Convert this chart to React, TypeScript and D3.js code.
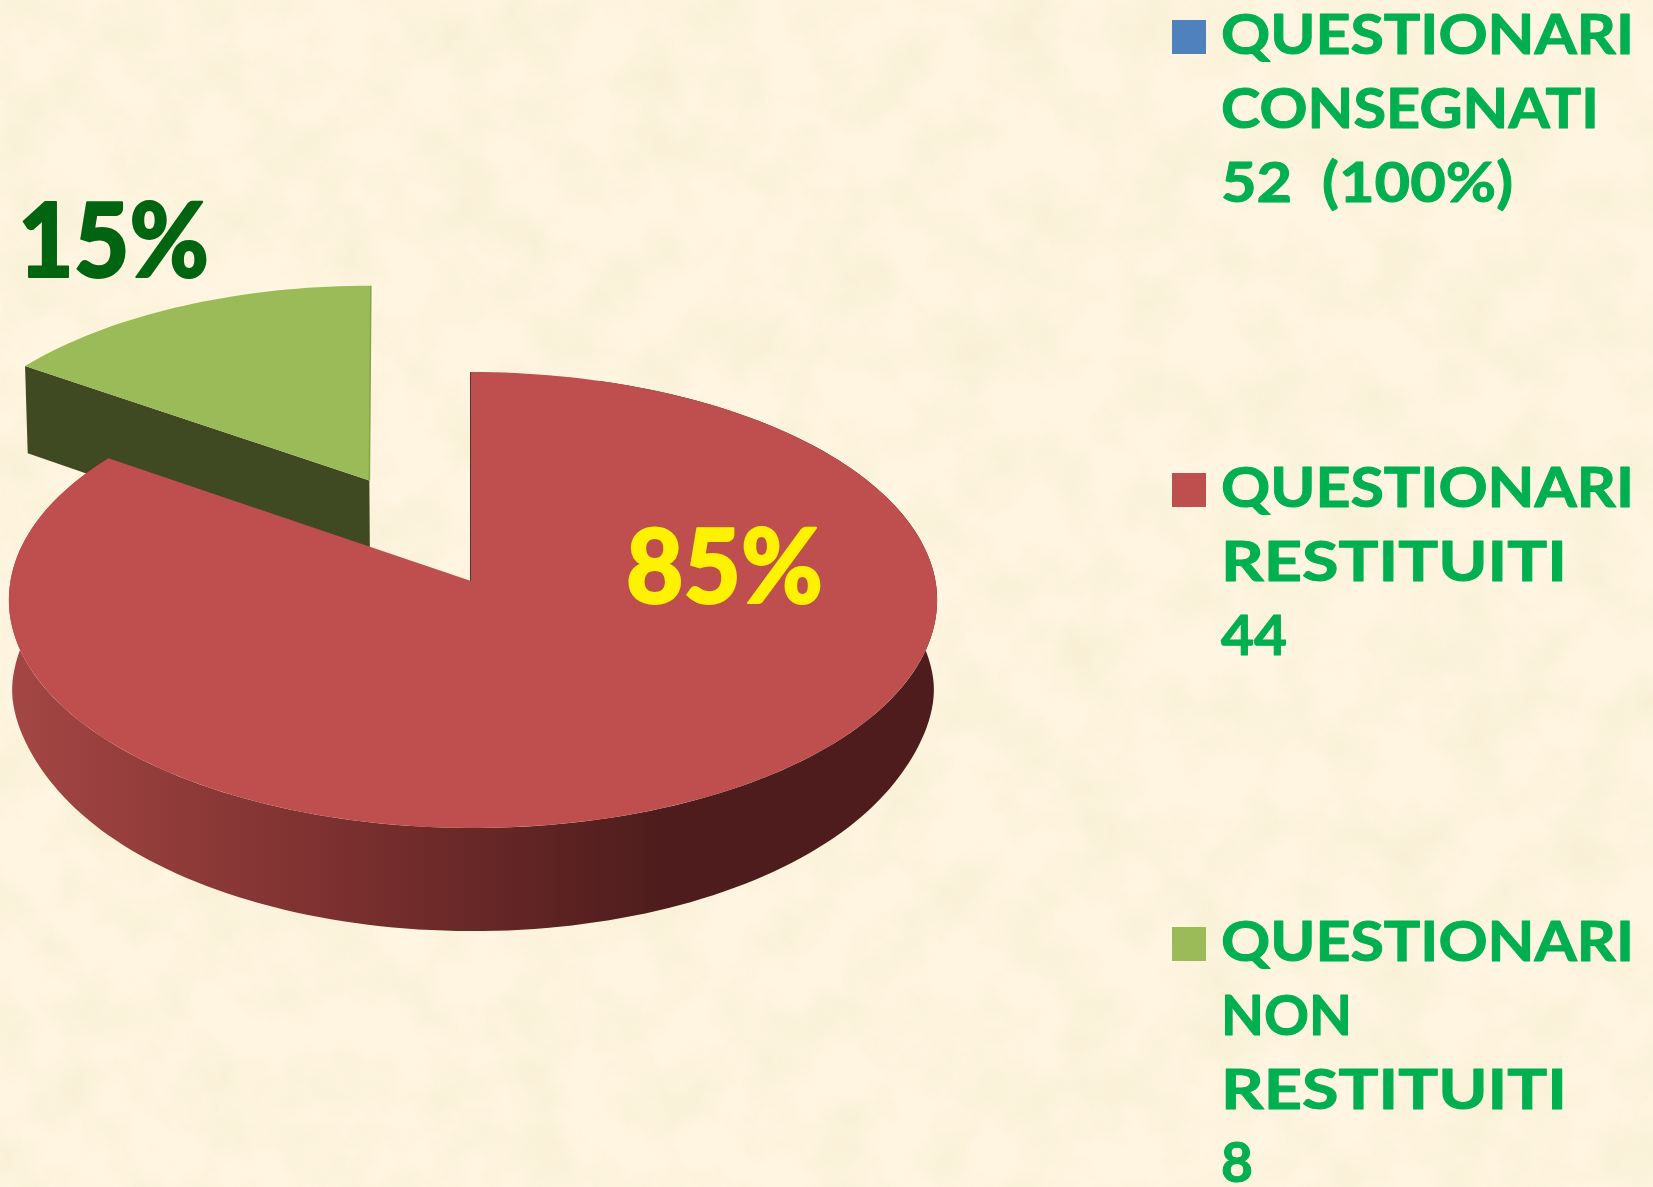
import React, { useMemo } from "react";
import * as d3 from "d3";

const W = 1653;
const H = 1187;

const categories = ["QUESTIONARI CONSEGNATI", "QUESTIONARI RESTITUITI", "QUESTIONARI NON RESTITUITI"];
const counts = [52, 44, 8];
const sliceValues = [0, 44, 8];
const legendLines = [
  ["QUESTIONARI", "CONSEGNATI", "52  (100%)"],
  ["QUESTIONARI", "RESTITUITI", "44"],
  ["QUESTIONARI", "NON", "RESTITUITI", "8"],
];
const legendWidths = [
  [413, 378, 292],
  [413, 346, 66],
  [413, 131, 346, 32],
];
const legendTops = [20, 473, 927];
const topColors = ["#4F81BD", "#BE4F4E", "#9BBB59"];
const TEXT_GREEN = "#00B050";
const WALL_GREEN = "#3F4A23";
const FONT = "Lato, 'Open Sans', sans-serif";

// Perspective model of the pie's disc
const CX = 473;
const CY = 581;
const RX = 462.5;
const RY = 226.4;
const K = 0.0834;
const DEPTH = 94.5;
const EXPLODE = 0.505;

type Off = { u: number; v: number; dx: number; dy: number; skew: number; ru: number; apexDx: number };
const project = (theta: number, radius: number, z: number, off: Off): [number, number] => {
  const cu = radius * off.ru * Math.sin(theta);
  const cv = radius * Math.cos(theta);
  const u = cu + off.u;
  const v = cv + off.v;
  const w = 1 + K * v;
  // the base of the wall narrows a little, smoothly, towards the viewer
  const front = Math.max(0, -v);
  const narrow = z * (0.006 + 0.018 * (1 - Math.exp(-(front * front) / 0.09)));
  return [
    CX + off.dx + off.apexDx * (1 - radius) + off.skew * Math.max(0, cv) + (RX * u * (1 - narrow)) / w,
    CY + off.dy - (RY * v) / w + (DEPTH * z) / w,
  ];
};

const line = d3.line<[number, number]>();

function rim(a0: number, a1: number, z: number, off: Off): [number, number][] {
  const n = Math.max(8, Math.ceil((Math.abs(a1 - a0) / Math.PI) * 120));
  const t = d3.scaleLinear().domain([0, n]).range([a0, a1]);
  return d3.range(n + 1).map((i) => project(t(i), 1, z, off));
}

export default function App() {
  const arcs = useMemo(() => d3.pie<number>().sort(null).startAngle(0).endAngle(2 * Math.PI)(sliceValues), []);
  const red = arcs[1];
  const green = arcs[2];
  const none: Off = { u: 0, v: 0, dx: 0, dy: 0, skew: -2, ru: 1, apexDx: -2 };
  const mid = (green.startAngle + green.endAngle) / 2;
  const gOff: Off = {
    u: EXPLODE * Math.sin(mid),
    v: EXPLODE * Math.cos(mid),
    dx: 1,
    dy: -3,
    skew: -6.3,
    ru: 0.984,
    apexDx: 0,
  };

  const redTop = [project(0, 0, 0, none), ...rim(red.startAngle, red.endAngle, 0, none)];
  const redWall = [...rim(0.3, red.endAngle, 0, none), ...rim(0.3, red.endAngle, 1, none).reverse()];
  const greenTop = [project(0, 0, 0, gOff), ...rim(green.startAngle, green.endAngle, 0, gOff)];
  const gApex0 = project(0, 0, 0, gOff);
  const gApex1 = project(0, 0, 1, gOff);
  const gRimL0 = project(green.startAngle, 1, 0, gOff);
  const gRimL1 = project(green.startAngle, 1, 1, gOff);
  const gRimR0 = project(green.endAngle, 1, 0, gOff);
  const total = d3.sum(sliceValues);
  const pct = (v: number) => `${Math.round((v / total) * 100)}%`;
  const redRim0 = project(0, 1, 0, none);
  const apex = project(0, 0, 0, none);

  return (
    <svg width={W} height={H} viewBox={`0 0 ${W} ${H}`} style={{ position: "absolute", left: 0, top: 0, display: "block" }}>
      <defs>
        <filter id="paper" x="0" y="0" width="100%" height="100%">
          <feTurbulence type="fractalNoise" baseFrequency="0.016" numOctaves={4} seed={7} />
          <feColorMatrix type="matrix" values="0 0 0 0 0.93  0 0 0 0 0.86  0 0 0 0 0.66  2.2 0 0 0 -0.88" />
        </filter>
        <linearGradient id="redWall" gradientUnits="userSpaceOnUse" x1={12} x2={665} y1={0} y2={0}>
          <stop offset="0" stopColor="#A44644" />
          <stop offset="0.5" stopColor="#7B302F" />
          <stop offset="1" stopColor="#4E1C1C" />
        </linearGradient>
      </defs>
      <rect width={W} height={H} fill="#FFF5E0" />
      <rect width={W} height={H} filter="url(#paper)" opacity={0.85} />

      <path d={line([gApex0, gRimL0, gRimL1, gApex1]) + "Z"} fill={WALL_GREEN} />
      <path d={line(greenTop) + "Z"} fill={topColors[2]} />
      <path d={line([gRimR0, gApex0]) ?? ""} stroke="#86A34C" strokeWidth={1.5} fill="none" />

      <path d={line(redWall) + "Z"} fill="url(#redWall)" />
      <path d={line([redRim0, apex]) ?? ""} stroke="#4E1C1C" strokeWidth={1.8} fill="none" />
      <path d={line(redTop) + "Z"} fill={topColors[1]} />

      <text x={18} y={277} fontFamily={FONT} fontWeight={900} fontSize={102} fill="#006411" stroke="#006411" strokeWidth={2} strokeLinejoin="round" textLength={191} lengthAdjust="spacingAndGlyphs">
        {pct(green.value)}
      </text>
      <text x={626} y={603} fontFamily={FONT} fontWeight={900} fontSize={102} fill="#FFF200" stroke="#FFF200" strokeWidth={2} strokeLinejoin="round" textLength={197} lengthAdjust="spacingAndGlyphs">
        {pct(red.value)}
      </text>

      {categories.map((c, i) => (
        <g key={c} data-count={counts[i]}>
          <rect x={1172} y={legendTops[i]} width={34} height={34} fill={topColors[i]} />
          {legendLines[i].map((t, j) => (
            <text
              key={j}
              x={1221}
              y={legendTops[i] + 34 + j * 73.8}
              fontFamily={FONT}
              fontWeight={700}
              fontSize={55}
              fill={TEXT_GREEN}
              stroke={TEXT_GREEN}
              strokeWidth={1}
              strokeLinejoin="round"
              textLength={legendWidths[i][j]}
              lengthAdjust="spacingAndGlyphs"
              xmlSpace="preserve"
            >
              {t}
            </text>
          ))}
        </g>
      ))}
    </svg>
  );
}
